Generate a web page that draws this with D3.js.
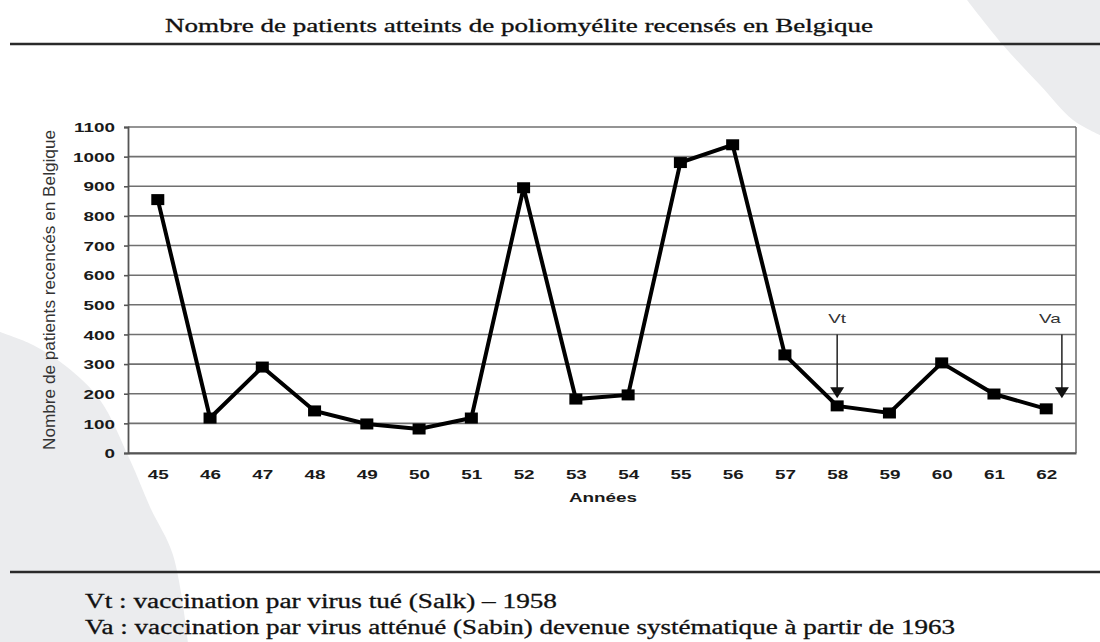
<!DOCTYPE html>
<html><head><meta charset="utf-8">
<script src="https://cdn.jsdelivr.net/npm/d3@7"></script>
<style>
html,body{margin:0;padding:0;background:#fff;}
svg{display:block;}
</style></head>
<body>
<svg id="chart" width="1100" height="642"></svg>
<script>
const title = "Nombre de patients atteints de poliomyélite recensés en Belgique";
const yLabel = "Nombre de  patients recencés en Belgique";
const xLabel = "Années";
const years = ["45","46","47","48","49","50","51","52","53","54","55","56","57","58","59","60","61","62"];
const patients = [855,118,290,142,98,81,118,895,182,196,980,1040,331,159,135,304,199,149];
const yTicks = [0,100,200,300,400,500,600,700,800,900,1000,1100];
const markLabels = ["Vt","Va"];
const markYears = [58,62.3];
const notes = [
  "Vt : vaccination par virus tué (Salk) – 1958",
  "Va : vaccination par virus atténué (Sabin) devenue systématique à partir de 1963"
];

const svg = d3.select("#chart");
const SX = 1.45; // horizontal stretch of the scanned picture

function stretch(sel, sx){
  sel.each(function(){
    const w = this.getComputedTextLength();
    d3.select(this).attr("textLength", w*sx).attr("lengthAdjust","spacingAndGlyphs");
  });
}

// background decorative shapes
const bgLine = d3.line().curve(d3.curveCatmullRom);
svg.append("path")
  .attr("d", bgLine([[967,0],[1003,45],[1040,85],[1073,120],[1100,135]]) + "L1100,0Z")
  .attr("fill","#ebecee");
svg.append("path")
  .attr("d", bgLine([[0,332],[33,345],[67,367],[100,400],[130,460],[150,507],[173,555],[188,642]]) + "L0,642Z")
  .attr("fill","#ebecee");

// title and rules
svg.append("text").attr("x",165).attr("y",32)
  .attr("font-family","'Liberation Serif','Times New Roman',serif")
  .attr("font-size",18.5).attr("fill","#111")
  .attr("stroke","#111").attr("stroke-width",0.3)
  .attr("textLength",708).attr("lengthAdjust","spacingAndGlyphs")
  .text(title);
svg.append("line").attr("x1",10).attr("x2",1100).attr("y1",44).attr("y2",44)
  .attr("stroke","#2a2a2a").attr("stroke-width",2.5);
svg.append("line").attr("x1",10).attr("x2",1100).attr("y1",572).attr("y2",572)
  .attr("stroke","#2a2a2a").attr("stroke-width",2.5);

const noteLens = [472, 870];
svg.selectAll("text.note").data(notes).join("text").attr("class","note")
  .attr("x",85).attr("y",(d,i)=>608+i*26)
  .attr("font-family","'Liberation Serif','Times New Roman',serif")
  .attr("font-size",20).attr("fill","#111")
  .attr("stroke","#111").attr("stroke-width",0.3)
  .attr("textLength",(d,i)=>noteLens[i]).attr("lengthAdjust","spacingAndGlyphs")
  .text(d=>d);

// scales
const L = 128, R = 1076, T = 127, B = 453;
const x = d3.scalePoint().domain(years).range([L,R]).padding(0.57);
const y = d3.scaleLinear().domain([0,1100]).range([B,T]);
const xYear = d3.scaleLinear().domain([+years[0], +years[years.length-1]])
  .range([x(years[0]), x(years[years.length-1])]);

// gridlines
svg.append("g").selectAll("line").data(yTicks).join("line")
  .attr("x1",L).attr("x2",R).attr("y1",d=>y(d)).attr("y2",d=>y(d))
  .attr("stroke","#707070").attr("stroke-width",1.6);
svg.append("line").attr("x1",R).attr("x2",R).attr("y1",T).attr("y2",B)
  .attr("stroke","#707070").attr("stroke-width",1.6);

// y axis
const gy = svg.append("g").attr("transform",`translate(${L},0)`)
  .call(d3.axisLeft(y).tickValues(yTicks).tickSize(4).tickPadding(9).tickFormat(d3.format("d")));
gy.select(".domain").attr("stroke","#555").attr("stroke-width",1.8);
gy.selectAll(".tick line").attr("stroke","#555").attr("stroke-width",1.6);
gy.selectAll("text").attr("font-family","'Liberation Sans',Arial,sans-serif")
  .attr("font-size",13).attr("font-weight","bold").attr("fill","#1a1a1a").attr("dy","0.36em");
stretch(gy.selectAll("text"), SX);

// x axis
const gx = svg.append("g").attr("transform",`translate(0,${B})`)
  .call(d3.axisBottom(x).tickSize(0).tickPadding(17));
gx.select(".domain").attr("stroke","#555").attr("stroke-width",1.8);
gx.selectAll("text").attr("font-family","'Liberation Sans',Arial,sans-serif")
  .attr("font-size",13).attr("font-weight","bold").attr("fill","#1a1a1a");
stretch(gx.selectAll("text"), SX);

// axis titles
const xt = svg.append("text").attr("x",603).attr("y",502).attr("text-anchor","middle")
  .attr("font-family","'Liberation Sans',Arial,sans-serif")
  .attr("font-size",13).attr("font-weight","bold").attr("fill","#1a1a1a").text(xLabel);
stretch(xt, SX);

svg.append("text")
  .attr("transform","translate(55,290) scale(1.3,1) rotate(-90)")
  .attr("text-anchor","middle")
  .attr("font-family","'Liberation Sans',Arial,sans-serif")
  .attr("font-size",13).attr("fill","#333")
  .attr("textLength",320).attr("lengthAdjust","spacingAndGlyphs")
  .text(yLabel);

// data line
const line = d3.line().x((d,i)=>x(years[i])).y(d=>y(d));
svg.append("path").datum(patients).attr("d",line)
  .attr("fill","none").attr("stroke","#000").attr("stroke-width",4)
  .attr("stroke-linejoin","miter");
svg.append("g").selectAll("rect").data(patients).join("rect")
  .attr("x",(d,i)=>x(years[i])-6.5).attr("y",d=>y(d)-5.5)
  .attr("width",13).attr("height",11).attr("fill","#000");

// vaccination arrows
const arrowTop = 400, arrowTip = 185, labelVal = 440;
const ag = svg.append("g");
markYears.forEach((yr,i)=>{
  const ax = xYear(yr);
  ag.append("line").attr("x1",ax).attr("x2",ax).attr("y1",y(arrowTop)).attr("y2",y(arrowTip)-9)
    .attr("stroke","#222").attr("stroke-width",1.5);
  ag.append("path")
    .attr("d",`M${ax-7},${y(arrowTip)-11}L${ax+7},${y(arrowTip)-11}L${ax},${y(arrowTip)}Z`)
    .attr("fill","#111");
  const t = ag.append("text").attr("x", i===1 ? ax-12 : ax).attr("y",y(labelVal))
    .attr("text-anchor","middle")
    .attr("font-family","'Liberation Sans',Arial,sans-serif")
    .attr("font-size",13).attr("fill","#333").text(markLabels[i]);
  stretch(t, SX);
});
</script>
</body></html>
